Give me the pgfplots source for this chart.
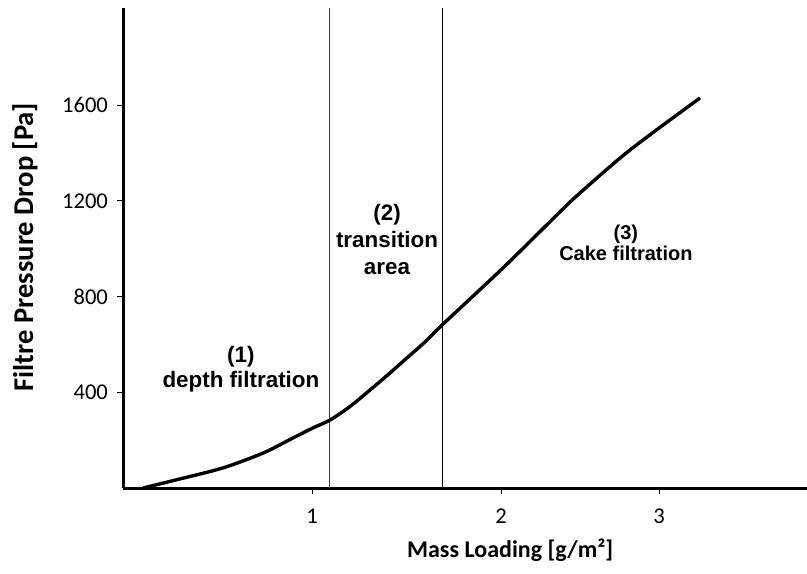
\documentclass[border=0pt]{standalone}
\usepackage{pgfplots}
\pgfplotsset{compat=1.18}
\usepackage{fontspec}
\setmainfont{Carlito}
\newfontfamily\arialf{Liberation Sans}
\begin{document}
\begin{tikzpicture}
\useasboundingbox (-61.5pt,-42.5pt) rectangle (342pt,244pt);
\begin{axis}[
  at={(0,0)}, anchor=south west,
  scale only axis, width=342pt, height=240pt,
  xmin=0, xmax=3.619, ymin=0, ymax=2006,
  axis x line=bottom, axis y line=left,
  axis line style={-, line width=1.5pt},
  clip=false,
  xtick={1,2,2.836}, xticklabels={1,2,3},
  ytick={400,800,1200,1600},
  tick align=outside, major tick length=3pt,
  tick style={line width=0.5pt, black},
  /pgf/number format/assume math mode=true,
  /pgf/number format/1000 sep={},
  ticklabel style={font=\fontsize{11.3}{13}\selectfont},
  xticklabel style={yshift=-4pt},
  yticklabel style={xshift=-1pt},
  xlabel={\bfseries Mass Loading [g/m²]},
  ylabel={\bfseries Filtre Pressure Drop [Pa]},
  xlabel style={at={(axis description cs:0.566,0)}, anchor=center, yshift=-31pt, font=\fontsize{12}{14}\selectfont},
  ylabel style={at={(axis description cs:0,0.502)}, anchor=center, yshift=49pt, font=\fontsize{14.3}{16}\selectfont},
]
\addplot[black!75, line width=0.5pt] coordinates {(1.095,0) (1.095,2006)};
\addplot[black, line width=0.5pt] coordinates {(1.688,0) (1.688,2006)};
\addplot[black, line width=1.7pt, smooth, tension=0.5] coordinates {
(0.106,0) (0.302,38) (0.529,84) (0.741,146) (0.899,209) (1.005,251)
(1.095,284) (1.2,340) (1.3,405) (1.4,472) (1.5,542) (1.6,612)
(1.688,681) (2.011,920) (2.312,1154) (2.418,1233) (2.683,1413) (3.053,1630)
};
\node[align=center, font=\arialf\bfseries\fontsize{11.2}{12.5}\selectfont] at (axis cs:0.624,495) {(1)\\depth filtration};
\node[align=center, font=\arialf\bfseries\fontsize{11.2}{13.5}\selectfont] at (axis cs:1.397,1037) {(2)\\transition\\area};
\node[align=center, font=\arialf\bfseries\fontsize{10}{10.5}\selectfont] at (axis cs:2.661,1026) {(3)\\Cake filtration};
\end{axis}
\end{tikzpicture}
\end{document}
